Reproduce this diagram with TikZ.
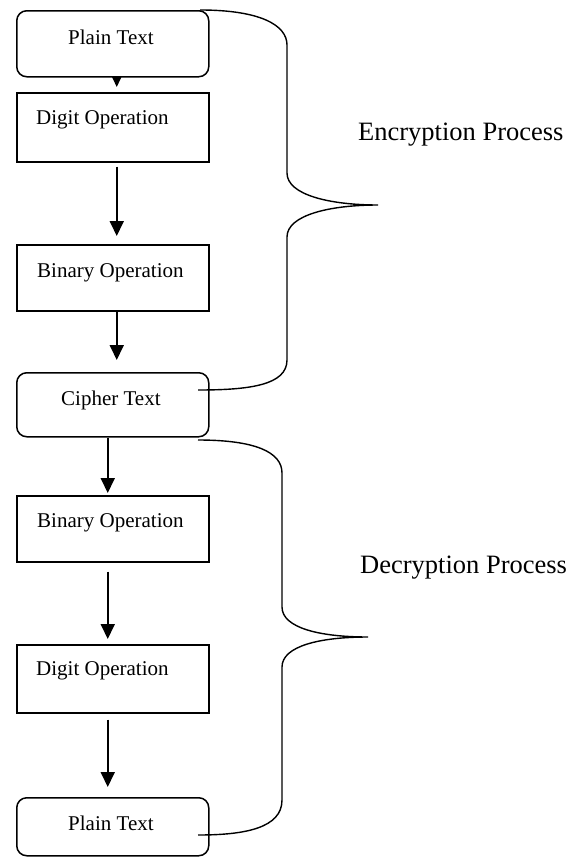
\documentclass[tikz,border=0pt]{standalone}
\usepackage{fontspec}
\setmainfont{Liberation Serif}
\usetikzlibrary{arrows.meta}
\begin{document}
\begin{tikzpicture}[x=1bp,y=-1bp,
  boxbase/.style={draw,line width=1.5bp,minimum width=192bp,inner sep=0pt,anchor=north west},
  rbox/.style={boxbase,rounded corners=10bp},
  sbox/.style={boxbase},
  boxtext/.style={inner sep=0pt,anchor=base west,font=\fontsize{21bp}{25bp}\selectfont},
  proclabel/.style={inner sep=0pt,anchor=base west,font=\fontsize{26.5bp}{30bp}\selectfont},
  arr/.style={line width=1.8bp,-{Triangle[width=14bp,length=15bp]}},
  brace/.style={line width=1.4bp}]
\useasboundingbox (0,0) rectangle (568,857);
% boxes
\node[rbox,minimum height=66bp] (b1) at (16,10) {};
\node[sbox,minimum height=69bp] (b2) at (16,92) {};
\node[sbox,minimum height=66bp] (b3) at (16,244) {};
\node[rbox,minimum height=64bp] (b4) at (16,372) {};
\node[sbox,minimum height=66bp] (b5) at (16,495) {};
\node[sbox,minimum height=68bp] (b6) at (16,644) {};
\node[rbox,minimum height=58bp] (b7) at (16,797) {};
% texts
\node[boxtext] (t1) at (68,44) {Plain Text};
\node[boxtext] (t2) at (36,124) {Digit Operation};
\node[boxtext] (t3) at (37,277) {Binary Operation};
\node[boxtext] (t4) at (61,405) {Cipher Text};
\node[boxtext] (t5) at (37,527) {Binary Operation};
\node[boxtext] (t6) at (36,675) {Digit Operation};
\node[boxtext] (t7) at (68,830) {Plain Text};
% arrows
\draw[line width=1.5bp,-{Triangle[width=10bp,length=11bp]},shorten >=5bp] ([xshift=4bp]b1.south) -- ([xshift=4bp]b2.north);
\draw[arr,shorten <=4bp,shorten >=8bp] ([xshift=4bp]b2.south) -- ([xshift=4bp]b3.north);
\draw[arr,shorten >=12bp] ([xshift=4bp]b3.south) -- ([xshift=4bp]b4.north);
\draw[arr,shorten >=2bp] ([xshift=-5bp]b4.south) -- ([xshift=-5bp]b5.north);
\draw[arr,shorten <=9bp,shorten >=5bp] ([xshift=-5bp]b5.south) -- ([xshift=-5bp]b6.north);
\draw[arr,shorten <=6bp,shorten >=10bp] ([xshift=-5bp]b6.south) -- ([xshift=-5bp]b7.north);
% braces
\draw[brace] (200,10) .. controls (260,10) and (287,25) .. (287,45)
  -- (287,173) .. controls (287,195) and (330,205) .. (378,205)
  .. controls (330,205) and (287,215) .. (287,237)
  -- (287,360) .. controls (287,385) and (250,390) .. (198,390);
\draw[brace] (198,440) .. controls (255,440) and (282,452) .. (282,473)
  -- (282,607) .. controls (282,628) and (320,637) .. (368,637)
  .. controls (320,637) and (282,646) .. (282,667)
  -- (282,800) .. controls (282,828) and (245,835) .. (198,835);
% labels
\node[proclabel] (enc) at (358,140) {Encryption Process};
\node[proclabel] (dec) at (360,573) {Decryption Process};
\end{tikzpicture}
\end{document}
